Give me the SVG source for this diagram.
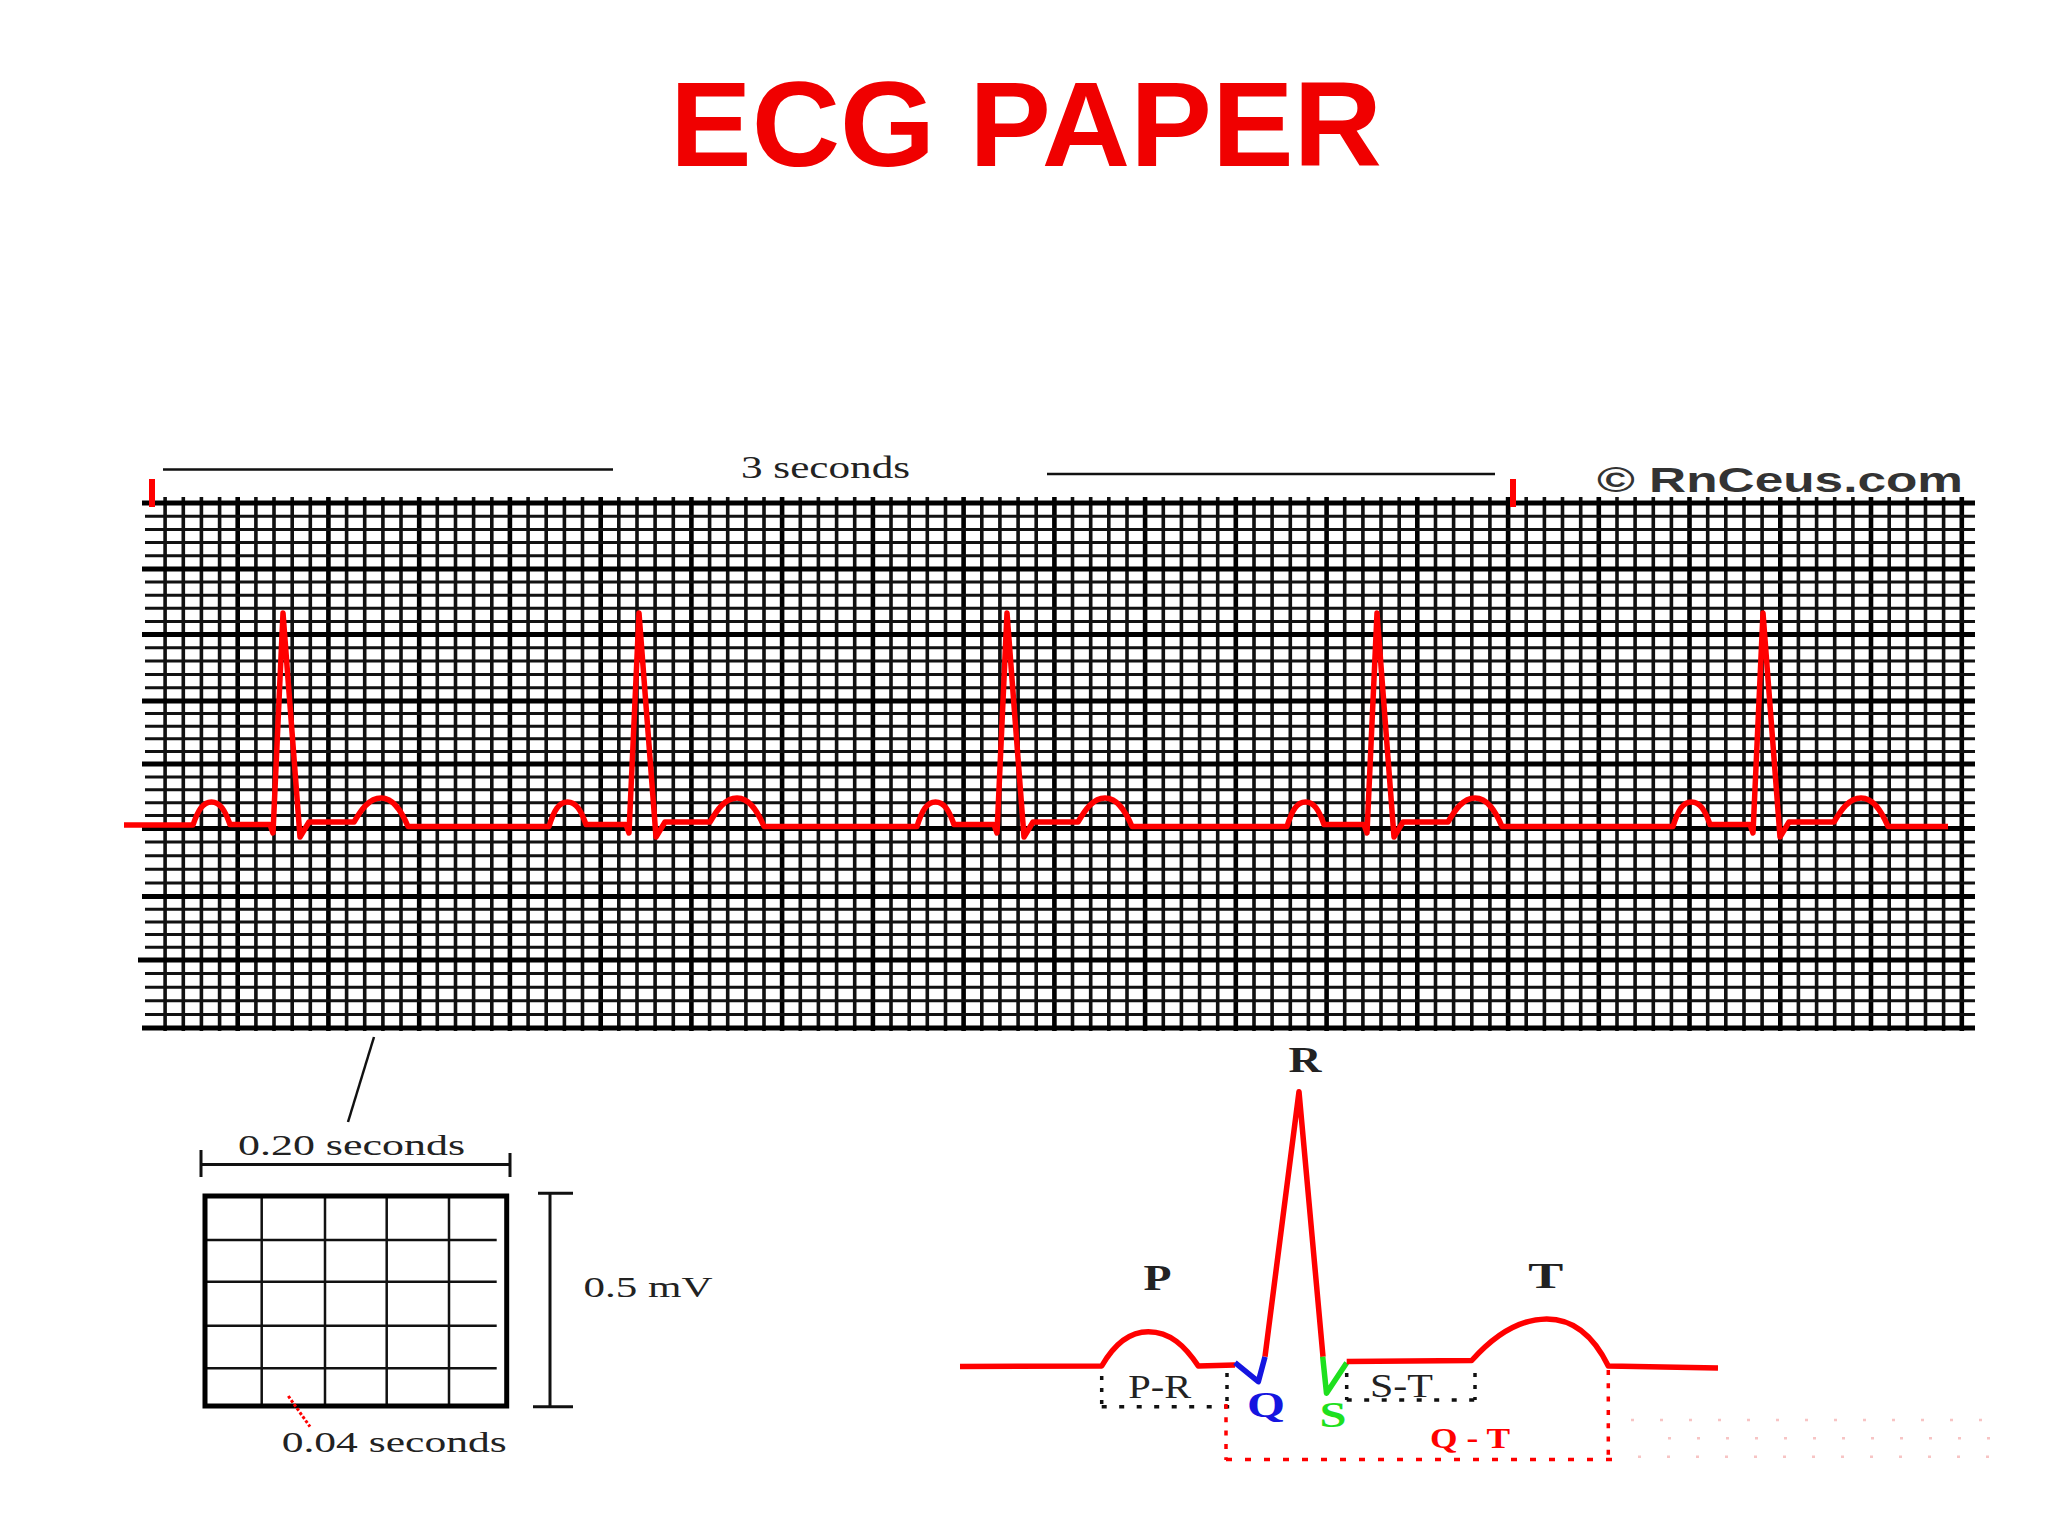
<svg xmlns="http://www.w3.org/2000/svg" width="2048" height="1536" viewBox="0 0 2048 1536">
<style>
.title{font-family:"Liberation Sans",Arial,sans-serif;font-weight:bold;fill:#f00000}
.serif{font-family:"Liberation Serif","Times New Roman",serif;fill:#222}
.bold{font-weight:bold}
.gthin{stroke:#111;stroke-width:3.6;fill:none}
.gbold{stroke:#000;stroke-width:4.6;fill:none}
.hthin{stroke:#111;stroke-width:3;fill:none}
.hbold{stroke:#000;stroke-width:4.8;fill:none}
.trace{stroke:#f00;stroke-width:5.5;fill:none;stroke-linejoin:round}
.ink{stroke:#111;fill:none}
.dotk{stroke:#111;stroke-width:3.5;fill:none}
.dotr{stroke:#f00;stroke-width:3.5;fill:none}
</style>
<rect width="2048" height="1536" fill="#fff"/>

<g id="title">
<text class="title" x="1026" y="166" font-size="121" text-anchor="middle" textLength="712" lengthAdjust="spacingAndGlyphs">ECG PAPER</text>
</g>

<g id="grid">
<path class="gthin" d="M165.1 497V1031M183.3 497V1031M201.4 497V1031M219.6 497V1031
M255.9 497V1031M274 497V1031M292.2 497V1031M310.3 497V1031
M346.6 497V1031M364.7 497V1031M382.9 497V1031M401 497V1031
M437.3 497V1031M455.5 497V1031M473.6 497V1031M491.8 497V1031
M528.1 497V1031M546.2 497V1031M564.4 497V1031M582.5 497V1031
M618.8 497V1031M637 497V1031M655.1 497V1031M673.3 497V1031
M709.6 497V1031M727.7 497V1031M745.9 497V1031M764 497V1031
M800.3 497V1031M818.4 497V1031M836.6 497V1031M854.7 497V1031
M891 497V1031M909.2 497V1031M927.3 497V1031M945.5 497V1031
M981.8 497V1031M999.9 497V1031M1018.1 497V1031M1036.2 497V1031
M1072.5 497V1031M1090.7 497V1031M1108.8 497V1031M1127 497V1031
M1163.3 497V1031M1181.4 497V1031M1199.6 497V1031M1217.7 497V1031
M1254 497V1031M1272.1 497V1031M1290.3 497V1031M1308.4 497V1031
M1344.7 497V1031M1362.9 497V1031M1381 497V1031M1399.2 497V1031
M1435.5 497V1031M1453.6 497V1031M1471.8 497V1031M1489.9 497V1031
M1526.2 497V1031M1544.4 497V1031M1562.5 497V1031M1580.7 497V1031
M1617 497V1031M1635.1 497V1031M1653.3 497V1031M1671.4 497V1031
M1707.7 497V1031M1725.8 497V1031M1744 497V1031M1762.1 497V1031
M1798.4 497V1031M1816.6 497V1031M1834.7 497V1031M1852.9 497V1031
M1889.2 497V1031M1907.3 497V1031M1925.5 497V1031M1943.6 497V1031"/>
<path class="gbold" d="M237.7 497V1031M328.4 497V1031M419.2 497V1031M509.9 497V1031M600.7 497V1031M691.4 497V1031M782.1 497V1031M872.9 497V1031M963.6 497V1031M1054.4 497V1031M1145.1 497V1031M1235.8 497V1031M1326.6 497V1031M1417.3 497V1031M1508.1 497V1031M1598.8 497V1031M1689.5 497V1031M1780.3 497V1031M1871 497V1031M1961.8 497V1031"/>
<path class="hthin" d="M145 516.2H1975M145 529.4H1975M145 542.6H1975M145 555.8H1975
M145 582.1H1975M145 595.2H1975M145 608.3H1975M145 621.4H1975
M145 647.8H1975M145 661.1H1975M145 674.4H1975M145 687.7H1975
M145 713.6H1975M145 726.2H1975M145 738.8H1975M145 751.4H1975
M145 776.9H1975M145 789.8H1975M145 802.7H1975M145 815.6H1975
M145 842.1H1975M145 855.7H1975M145 869.3H1975M145 882.9H1975
M145 909.2H1975M145 921.9H1975M145 934.6H1975M145 947.3H1975
M145 973.6H1975M145 987.2H1975M145 1000.8H1975M145 1014.4H1975"/>
<path class="hbold" d="M142 503H1975M142 569H1975M142 634.5H1975M142 701H1975M142 764H1975M142 828.5H1975M142 896.5H1975M138 960H1975M142 1028H1975"/>
</g>

<g id="ecg-trace">
<path class="trace" d="M124 825L193 825C198 810 203 802 211.5 802C220 802 225 810 230 824.5L270 824.5L273 833L283 613L300 837L309 822L354 822C361 810 369 798 381 798C393 798 401 810 408 826.5
L549 826.5C554 810 559 802 567.5 802C576 802 581 810 586 824.5L626 824.5L629 833L639 613L656 837L665 822L710 822C717 810 725 798 737 798C749 798 757 810 764 826.5
L917 826.5C922 810 927 802 935.5 802C944 802 949 810 954 824.5L994 824.5L997 833L1007 613L1024 837L1033 822L1078 822C1085 810 1093 798 1105 798C1117 798 1125 810 1132 826.5
L1287 826.5C1292 810 1297 802 1305.5 802C1314 802 1319 810 1324 824.5L1364 824.5L1367 833L1377 613L1394 837L1403 822L1448 822C1455 810 1463 798 1475 798C1487 798 1495 810 1502 826.5
L1673 826.5C1678 810 1683 802 1691.5 802C1700 802 1705 810 1710 824.5L1750 824.5L1753 833L1763 613L1780 837L1789 822L1834 822C1841 810 1849 798 1861 798C1873 798 1881 810 1888 826.5L1948 826.5"/>
</g>

<g id="three-seconds">
<path class="ink" stroke-width="2.5" d="M163 469.5H613M1047 474H1495"/>
<rect x="149" y="479" width="6" height="28" fill="#f00"/>
<rect x="1510" y="479" width="6" height="28" fill="#f00"/>
<text class="serif" x="741" y="478" font-size="32" textLength="169" lengthAdjust="spacingAndGlyphs">3 seconds</text>
</g>

<g id="copyright">
<text x="1597" y="492" font-family="'Liberation Sans',Arial,sans-serif" font-weight="bold" font-size="35" fill="#333" textLength="366" lengthAdjust="spacingAndGlyphs">© RnCeus.com</text>
</g>

<g id="big-square">
<path class="ink" stroke-width="2.5" stroke="#222" d="M374 1037L348 1122"/>
<text class="serif" x="238" y="1155" font-size="29" textLength="227" lengthAdjust="spacingAndGlyphs">0.20 seconds</text>
<path class="ink" stroke-width="3" d="M201 1164.5H510M201 1150V1177M510 1153V1177"/>
<path class="ink" stroke-width="2.5" d="M261.7 1196V1406M325 1196V1406M386.7 1196V1406M449 1196V1406M205 1240H496.7M205 1281.7H496.7M205 1325.7H496.7M205 1368.3H496.7"/>
<rect x="205" y="1196" width="301.7" height="210" fill="none" stroke="#000" stroke-width="5"/>
<path class="ink" stroke-width="3" d="M550 1193.3V1406.7M538 1193.3H573M533 1406.7H573"/>
<text class="serif" x="583.6" y="1296.7" font-size="29" textLength="129" lengthAdjust="spacingAndGlyphs">0.5 mV</text>
<path stroke="#f00" stroke-width="3" stroke-dasharray="3 2" fill="none" d="M288.3 1396L310 1426.7"/>
<text class="serif" x="281.7" y="1452" font-size="29" textLength="225" lengthAdjust="spacingAndGlyphs">0.04 seconds</text>
</g>

<g id="pqrst">
<path class="trace" d="M960 1366.5L1101.7 1366C1112 1348 1126 1331.7 1148.3 1331.7C1170 1331.7 1185 1346 1198.3 1366L1235 1365"/>
<path stroke="#1515e0" stroke-width="5.5" fill="none" stroke-linejoin="round" d="M1235 1362.7L1258.3 1381.7L1265 1356.7"/>
<path class="trace" d="M1265 1356.7L1299 1091.7L1323 1356.7"/>
<path stroke="#1ee01e" stroke-width="5.5" fill="none" stroke-linejoin="round" d="M1322.7 1356.7L1326.5 1393.3L1346.7 1362.7"/>
<path class="trace" d="M1346.7 1361.5L1471.7 1360.5C1490 1340 1515 1319 1546.7 1319C1580 1319 1598 1345 1608.3 1366L1718 1368"/>
<text class="serif bold" x="1305" y="1071.7" font-size="35" text-anchor="middle" fill="#111" textLength="33" lengthAdjust="spacingAndGlyphs">R</text>
<text class="serif bold" x="1157.5" y="1290" font-size="35" text-anchor="middle" fill="#111" textLength="28" lengthAdjust="spacingAndGlyphs">P</text>
<text class="serif bold" x="1545.8" y="1288.3" font-size="36" text-anchor="middle" fill="#111" textLength="35" lengthAdjust="spacingAndGlyphs">T</text>
<text class="serif bold" x="1266" y="1417" font-size="36" text-anchor="middle" style="fill:#1515e0" textLength="38" lengthAdjust="spacingAndGlyphs">Q</text>
<text class="serif bold" x="1333" y="1426.7" font-size="36" text-anchor="middle" style="fill:#1ee01e" textLength="27" lengthAdjust="spacingAndGlyphs">S</text>
<text class="serif" x="1128.3" y="1398.3" font-size="33" fill="#111" textLength="63" lengthAdjust="spacingAndGlyphs">P-R</text>
<text class="serif" x="1370" y="1396.7" font-size="33" fill="#111" textLength="63" lengthAdjust="spacingAndGlyphs">S-T</text>
<text class="serif bold" x="1430" y="1448" font-size="30" style="fill:#f00" textLength="80" lengthAdjust="spacingAndGlyphs">Q - T</text>
</g>

<g id="intervals">
<path class="dotk" stroke-dasharray="4 8" d="M1101.7 1376V1407M1227 1373V1407M1346.7 1373V1400M1475 1373V1400"/>
<path class="dotk" stroke-dasharray="5 12.5" d="M1101.7 1406.7H1230M1346.7 1400H1478"/>
<path class="dotr" stroke-dasharray="5 8.3" d="M1226 1404V1460M1608.3 1370V1460"/>
<path class="dotr" stroke-dasharray="6 13" d="M1226 1459.5H1612"/>
<path stroke="#f7c4c4" stroke-width="2.5" fill="none" stroke-dasharray="3 26" d="M1631 1420H1990M1668 1438.3H1990M1638 1456.7H1990"/>
</g>
</svg>
